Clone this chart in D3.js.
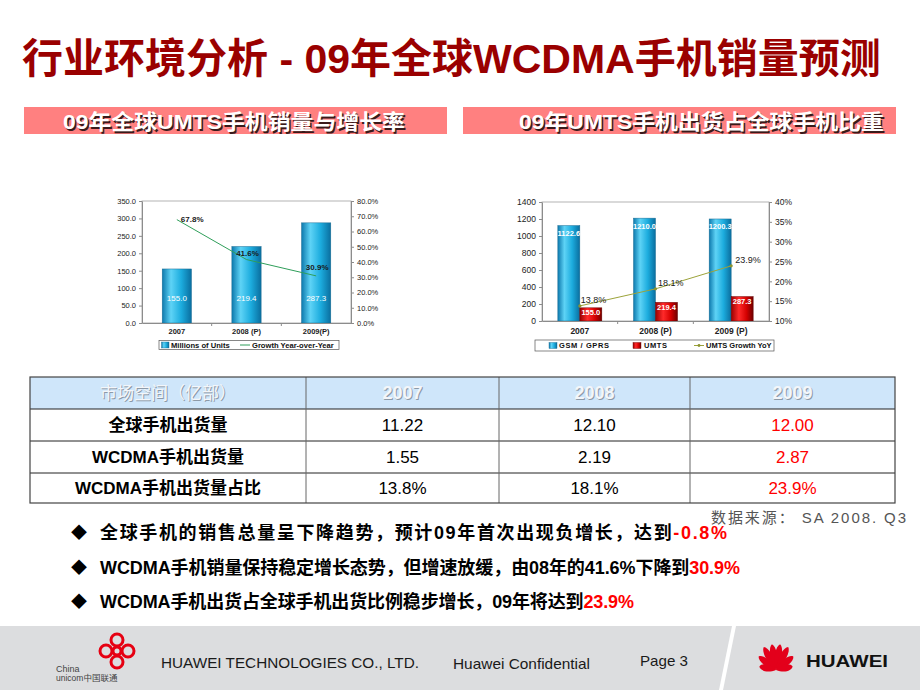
<!DOCTYPE html>
<html>
<head>
<meta charset="utf-8">
<script src="https://cdn.jsdelivr.net/npm/d3@7"></script>
<style>
  body { margin: 0; background: #fff; }
  svg { display: block; }
  text { font-family: "Liberation Sans", Arial, "Noto Sans CJK SC", sans-serif; }
</style>
</head>
<body>
<svg id="slide" width="920" height="690"></svg>
<script>
const slideTitle = '行业环境分析 - 09年全球WCDMA手机销量预测';
const panelTitles = ['09年全球UMTS手机销量与增长率', '09年UMTS手机出货占全球手机比重'];

// left chart: UMTS units + growth
const leftYears = ['2007', '2008 (P)', '2009(P)'];
const unitsSold = [155.0, 219.4, 287.3];
const unitsGrowth = [67.8, 41.6, 30.9];
const unitTicks = [0, 50, 100, 150, 200, 250, 300, 350];
const growthTicks = [0, 10, 20, 30, 40, 50, 60, 70, 80];
const leftLegend = ['Millions of Units', 'Growth Year-over-Year'];

// right chart: GSM vs UMTS + UMTS share
const rightYears = ['2007', '2008 (P)', '2009 (P)'];
const gsmUnits = [1122.6, 1210.0, 1200.3];
const umtsUnits = [155.0, 219.4, 287.3];
const umtsShare = [13.8, 18.1, 23.9];
const shipTicks = [0, 200, 400, 600, 800, 1000, 1200, 1400];
const shareTicks = [10, 15, 20, 25, 30, 35, 40];
const rightLegend = ['GSM / GPRS', 'UMTS', 'UMTS Growth YoY'];

const tableHead = ['市场空间（亿部）', '2007', '2008', '2009'];
const tableRows = ['全球手机出货量', 'WCDMA手机出货量', 'WCDMA手机出货量占比'];
const tableValues = [
  ['11.22', '12.10', '12.00'],
  ['1.55', '2.19', '2.87'],
  ['13.8%', '18.1%', '23.9%'],
];

const sourceNote = '数据来源： SA 2008. Q3';
const bullets = [
  ['全球手机的销售总量呈下降趋势，预计09年首次出现负增长，达到', '-0.8%'],
  ['WCDMA手机销量保持稳定增长态势，但增速放缓，由08年的41.6%下降到', '30.9%'],
  ['WCDMA手机出货占全球手机出货比例稳步增长，09年将达到', '23.9%'],
];

const footerTexts = ['HUAWEI TECHNOLOGIES CO., LTD.', 'Huawei Confidential', 'Page 3'];

const FONT = '"Liberation Sans", Arial, "Noto Sans CJK SC", sans-serif';

const createBarGradient = (defs, id, stops) => {
  const grad = defs.append('linearGradient')
    .attr('id', id)
    .attr('x1', '0%').attr('x2', '100%')
    .attr('y1', '0%').attr('y2', '0%');
  stops.forEach(([offset, color]) => {
    grad.append('stop').attr('offset', offset).attr('stop-color', color);
  });
};

const styleAxis = (axis, size) => {
  axis.attr('font-family', FONT).attr('font-size', size);
  axis.select('.domain').attr('stroke', '#8c8c8c');
  axis.selectAll('.tick line').attr('stroke', '#8c8c8c');
  axis.selectAll('.tick text').attr('fill', '#222');
};

const drawHeader = (svg) => {
  svg.append('text')
    .attr('x', 22)
    .attr('y', 73)
    .attr('font-size', 41)
    .attr('font-weight', 'bold')
    .attr('fill', '#9a0000')
    .text(slideTitle);

  const bars = [
    { x: 24, w: 423, tx: 63, tw: 342 },
    { x: 463, w: 433, tx: 519, tw: 365 },
  ];
  bars.forEach((b, i) => {
    svg.append('rect')
      .attr('x', b.x).attr('y', 107)
      .attr('width', b.w).attr('height', 27)
      .attr('fill', '#ff8080');
    [['#3a1a1a', 1.5], ['#ffffff', 0]].forEach(([color, off]) => {
      svg.append('text')
        .attr('x', b.tx + off)
        .attr('y', 129 + off)
        .attr('font-size', 21)
        .attr('font-weight', 'bold')
        .attr('fill', color)
        .attr('textLength', b.tw)
        .attr('lengthAdjust', 'spacingAndGlyphs')
        .text(panelTitles[i]);
    });
  });
};

const drawUnitsChart = (svg) => {
  const plot = { left: 142, right: 351, top: 201, bottom: 323 };
  const x = d3.scaleBand().domain(leftYears).range([plot.left, plot.right]);
  const y = d3.scaleLinear().domain([0, 350]).range([plot.bottom, plot.top]);
  const yPct = d3.scaleLinear().domain([0, 80]).range([plot.bottom, plot.top]);
  const cx = d => x(d) + x.bandwidth() / 2;
  const barWidth = x.bandwidth() * 0.42;
  const chart = svg.append('g');

  chart.append('rect')
    .attr('x', plot.left).attr('y', plot.top)
    .attr('width', plot.right - plot.left).attr('height', plot.bottom - plot.top)
    .attr('fill', 'none')
    .attr('stroke', '#a0a0a0')
    .attr('stroke-width', 0.8);

  chart.selectAll('.units-bar')
    .data(unitsSold)
    .enter()
    .append('rect')
    .attr('class', 'units-bar')
    .attr('x', (d, i) => cx(leftYears[i]) - barWidth / 2)
    .attr('y', d => y(d))
    .attr('width', barWidth)
    .attr('height', d => y(0) - y(d))
    .attr('fill', 'url(#blueBar)')
    .attr('stroke', '#1b6c93')
    .attr('stroke-width', 0.5);

  chart.selectAll('.units-label')
    .data(unitsSold)
    .enter()
    .append('text')
    .attr('class', 'units-label')
    .attr('x', (d, i) => cx(leftYears[i]))
    .attr('y', y(0) - 25)
    .attr('text-anchor', 'middle')
    .attr('dominant-baseline', 'central')
    .attr('font-size', 8)
    .attr('fill', '#fff')
    .text(d => d.toFixed(1));

  const line = d3.line()
    .x((d, i) => cx(leftYears[i]))
    .y(d => yPct(d));
  chart.append('path')
    .datum(unitsGrowth)
    .attr('d', line)
    .attr('fill', 'none')
    .attr('stroke', '#2f9e5a')
    .attr('stroke-width', 1);

  chart.selectAll('.growth-label')
    .data(unitsGrowth)
    .enter()
    .append('text')
    .attr('class', 'growth-label')
    .attr('x', (d, i) => cx(leftYears[i]) + (i === 0 ? 4 : 1))
    .attr('y', (d, i) => yPct(d) - (i === 0 ? 0 : 5 + i * 1.5))
    .attr('text-anchor', (d, i) => (i === 0 ? 'start' : 'middle'))
    .attr('dominant-baseline', 'central')
    .attr('font-size', 8)
    .attr('font-weight', 'bold')
    .attr('fill', '#1a1a1a')
    .text(d => `${d.toFixed(1)}%`);

  chart.append('g')
    .attr('transform', `translate(${plot.left},0)`)
    .call(d3.axisLeft(y).tickValues(unitTicks).tickFormat(d3.format('.1f')).tickSize(3).tickSizeOuter(0))
    .call(styleAxis, 7.5);
  chart.append('g')
    .attr('transform', `translate(${plot.right},0)`)
    .call(d3.axisRight(yPct).tickValues(growthTicks).tickFormat(d => `${d.toFixed(1)}%`).tickSize(3).tickSizeOuter(0))
    .call(styleAxis, 7.5);
  chart.append('g')
    .attr('transform', `translate(0,${plot.bottom})`)
    .call(d3.axisBottom(x).tickSize(0).tickPadding(6))
    .call(styleAxis, 7.5)
    .call(g => g.selectAll('.tick text').attr('font-weight', 'bold'));
  chart.selectAll('.cat-sep')
    .data(leftYears.slice(1))
    .enter()
    .append('line')
    .attr('class', 'cat-sep')
    .attr('x1', d => x(d)).attr('x2', d => x(d))
    .attr('y1', plot.bottom).attr('y2', plot.bottom + 3)
    .attr('stroke', '#8c8c8c');

  // legend
  const legend = chart.append('g');
  legend.append('rect')
    .attr('x', 159).attr('y', 340.5).attr('width', 180).attr('height', 9)
    .attr('fill', '#fff').attr('stroke', '#555').attr('stroke-width', 0.7);
  legend.append('rect')
    .attr('x', 161.5).attr('y', 342).attr('width', 7.5).attr('height', 6)
    .attr('fill', 'url(#blueBar)').attr('stroke', '#1b6c93').attr('stroke-width', 0.4);
  legend.append('line')
    .attr('x1', 240).attr('x2', 250).attr('y1', 345).attr('y2', 345)
    .attr('stroke', '#2f9e5a').attr('stroke-width', 1);
  legend.selectAll('.lg-text')
    .data(leftLegend)
    .enter()
    .append('text')
    .attr('x', (d, i) => (i === 0 ? 171 : 252))
    .attr('y', 345)
    .attr('dominant-baseline', 'central')
    .attr('font-size', 7.6)
    .attr('font-weight', 'bold')
    .attr('fill', '#111')
    .text(d => d);
};

const drawShareChart = (svg) => {
  const plot = { left: 542, right: 769, top: 202, bottom: 321 };
  const x = d3.scaleBand().domain(rightYears).range([plot.left, plot.right]);
  const series = d3.scaleBand().domain(['gsm', 'umts']).range([0, x.bandwidth()]).paddingOuter(0.72);
  const y = d3.scaleLinear().domain([0, 1400]).range([plot.bottom, plot.top]);
  const yPct = d3.scaleLinear().domain([10, 40]).range([plot.bottom, plot.top]);
  const cx = d => x(d) + x.bandwidth() / 2;
  const chart = svg.append('g');

  chart.append('rect')
    .attr('x', plot.left).attr('y', plot.top)
    .attr('width', plot.right - plot.left).attr('height', plot.bottom - plot.top)
    .attr('fill', 'none')
    .attr('stroke', '#a0a0a0')
    .attr('stroke-width', 0.8);

  const groups = [
    { key: 'gsm', values: gsmUnits, fill: 'url(#blueBar)', stroke: '#1b6c93' },
    { key: 'umts', values: umtsUnits, fill: 'url(#redBar)', stroke: '#6a0000' },
  ];
  groups.forEach(({ key, values, fill, stroke }) => {
    chart.selectAll(`.bar-${key}`)
      .data(values)
      .enter()
      .append('rect')
      .attr('class', `bar-${key}`)
      .attr('x', (d, i) => x(rightYears[i]) + series(key))
      .attr('y', d => y(d))
      .attr('width', series.bandwidth())
      .attr('height', d => y(0) - y(d))
      .attr('fill', fill)
      .attr('stroke', stroke)
      .attr('stroke-width', 0.5);
    chart.selectAll(`.label-${key}`)
      .data(values)
      .enter()
      .append('text')
      .attr('class', `label-${key}`)
      .attr('x', (d, i) => x(rightYears[i]) + series(key) + series.bandwidth() / 2)
      .attr('y', d => y(d) + (key === 'gsm' ? 8 : 5))
      .attr('text-anchor', 'middle')
      .attr('dominant-baseline', 'central')
      .attr('font-size', 7.5)
      .attr('font-weight', 'bold')
      .attr('fill', '#fff')
      .text(d => d.toFixed(1));
  });

  const line = d3.line()
    .x((d, i) => cx(rightYears[i]))
    .y(d => yPct(d));
  chart.append('path')
    .datum(umtsShare)
    .attr('d', line)
    .attr('fill', 'none')
    .attr('stroke', '#9ca33a')
    .attr('stroke-width', 1);
  chart.selectAll('.share-dot')
    .data(umtsShare)
    .enter()
    .append('circle')
    .attr('class', 'share-dot')
    .attr('cx', (d, i) => cx(rightYears[i]))
    .attr('cy', d => yPct(d))
    .attr('r', 1.6)
    .attr('fill', '#8c9430');
  chart.selectAll('.share-label')
    .data(umtsShare)
    .enter()
    .append('text')
    .attr('class', 'share-label')
    .attr('x', (d, i) => cx(rightYears[i]) + 1 + i * 1.5)
    .attr('y', d => yPct(d) - 5.5)
    .attr('dominant-baseline', 'central')
    .attr('font-size', 9)
    .attr('fill', '#1a1a1a')
    .text(d => `${d.toFixed(1)}%`);

  chart.append('g')
    .attr('transform', `translate(${plot.left},0)`)
    .call(d3.axisLeft(y).tickValues(shipTicks).tickFormat(d3.format('d')).tickSize(3).tickSizeOuter(0))
    .call(styleAxis, 8.5);
  chart.append('g')
    .attr('transform', `translate(${plot.right},0)`)
    .call(d3.axisRight(yPct).tickValues(shareTicks).tickFormat(d => `${d}%`).tickSize(3).tickSizeOuter(0))
    .call(styleAxis, 8.5);
  chart.append('g')
    .attr('transform', `translate(0,${plot.bottom})`)
    .call(d3.axisBottom(x).tickSize(0).tickPadding(7))
    .call(styleAxis, 8.5)
    .call(g => g.selectAll('.tick text').attr('font-weight', 'bold'));
  chart.selectAll('.cat-sep')
    .data(rightYears.slice(1))
    .enter()
    .append('line')
    .attr('class', 'cat-sep')
    .attr('x1', d => x(d)).attr('x2', d => x(d))
    .attr('y1', plot.bottom).attr('y2', plot.bottom + 3)
    .attr('stroke', '#8c8c8c');

  const legend = chart.append('g');
  legend.append('rect')
    .attr('x', 535).attr('y', 340).attr('width', 239).attr('height', 11)
    .attr('fill', '#fff').attr('stroke', '#555').attr('stroke-width', 0.7);
  legend.append('rect')
    .attr('x', 549).attr('y', 342.5).attr('width', 8).attr('height', 6)
    .attr('fill', 'url(#blueBar)').attr('stroke', '#1b6c93').attr('stroke-width', 0.4);
  legend.append('rect')
    .attr('x', 633).attr('y', 342.5).attr('width', 8).attr('height', 6)
    .attr('fill', 'url(#redBar)').attr('stroke', '#6a0000').attr('stroke-width', 0.4);
  legend.append('line')
    .attr('x1', 694).attr('x2', 704).attr('y1', 345.5).attr('y2', 345.5)
    .attr('stroke', '#9ca33a').attr('stroke-width', 1);
  legend.append('circle')
    .attr('cx', 699).attr('cy', 345.5).attr('r', 1.4).attr('fill', '#8c9430');
  const legendX = [559, 644, 706];
  legend.selectAll('.lg-text')
    .data(rightLegend)
    .enter()
    .append('text')
    .attr('x', (d, i) => legendX[i])
    .attr('y', 345.8)
    .attr('dominant-baseline', 'central')
    .attr('font-size', 7.5)
    .attr('font-weight', 'bold')
    .attr('letter-spacing', (d, i) => (i === 2 ? 0 : 0.6))
    .attr('fill', '#111')
    .text(d => d);
};

const drawTable = (svg) => {
  const cols = [30, 306, 499, 690, 895];
  const rows = [377, 409, 441, 473, 503];
  const table = svg.append('g');

  table.append('rect')
    .attr('x', cols[0]).attr('y', rows[0])
    .attr('width', cols[4] - cols[0]).attr('height', rows[1] - rows[0])
    .attr('fill', '#cfe6fa');

  rows.slice(1, 4).forEach(ry => {
    table.append('line')
      .attr('x1', cols[0]).attr('x2', cols[4]).attr('y1', ry).attr('y2', ry)
      .attr('stroke', '#222').attr('stroke-width', 1);
  });
  cols.slice(1, 4).forEach(cx => {
    table.append('line')
      .attr('x1', cx).attr('x2', cx).attr('y1', rows[0]).attr('y2', rows[4])
      .attr('stroke', '#666').attr('stroke-width', 1);
  });
  table.append('rect')
    .attr('x', cols[0]).attr('y', rows[0])
    .attr('width', cols[4] - cols[0]).attr('height', rows[4] - rows[0])
    .attr('fill', 'none').attr('stroke', '#444').attr('stroke-width', 1.2);

  const mid = i => (cols[i] + cols[i + 1]) / 2;
  const rowMid = i => (rows[i] + rows[i + 1]) / 2;

  tableHead.forEach((h, i) => {
    [['#8d9aa8', 1], ['#f3f6fa', 0]].forEach(([color, off]) => {
      table.append('text')
        .attr('x', mid(i) + off)
        .attr('y', rowMid(0) + off)
        .attr('text-anchor', 'middle')
        .attr('dominant-baseline', 'central')
        .attr('font-size', i === 0 ? 17 : 18)
        .attr('font-weight', i === 0 ? 'normal' : 'bold')
        .attr('fill', color)
        .text(h);
    });
  });

  tableRows.forEach((label, r) => {
    table.append('text')
      .attr('x', mid(0))
      .attr('y', rowMid(r + 1))
      .attr('text-anchor', 'middle')
      .attr('dominant-baseline', 'central')
      .attr('font-size', 17)
      .attr('font-weight', 'bold')
      .attr('fill', '#000')
      .text(label);
    tableValues[r].forEach((v, c) => {
      table.append('text')
        .attr('x', mid(c + 1))
        .attr('y', rowMid(r + 1))
        .attr('text-anchor', 'middle')
        .attr('dominant-baseline', 'central')
        .attr('font-size', 17)
        .attr('fill', c === 2 ? '#ff0000' : '#000')
        .text(v);
    });
  });
};

const drawBullets = (svg) => {
  svg.append('text')
    .attr('x', 711)
    .attr('y', 523)
    .attr('font-family', '"Liberation Serif", "DejaVu Serif", "Noto Sans CJK SC", serif')
    .attr('font-size', 15)
    .attr('fill', '#555')
    .attr('textLength', 195)
    .text(sourceNote);

  const lineY = [539, 574, 608];
  const lineW = [627, 640, 534];
  bullets.forEach(([body, value], i) => {
    svg.append('text')
      .attr('x', 71)
      .attr('y', lineY[i] - 1)
      .attr('font-family', '"DejaVu Sans", sans-serif')
      .attr('font-size', 16)
      .attr('fill', '#000')
      .text('◆');
    const t = svg.append('text')
      .attr('x', 100)
      .attr('y', lineY[i])
      .attr('font-family', '"Noto Sans CJK SC", "Liberation Sans", sans-serif')
      .attr('font-size', 18)
      .attr('font-weight', 'bold')
      .attr('textLength', lineW[i]);
    t.append('tspan').attr('fill', '#000').text(body);
    t.append('tspan').attr('fill', '#ff0000').text(value);
  });
};

const drawFooter = (svg) => {
  const footer = svg.append('g');
  footer.append('rect')
    .attr('x', 0).attr('y', 626).attr('width', 920).attr('height', 64)
    .attr('fill', '#dcdddf');
  footer.append('path')
    .attr('d', 'M732,626 L736,626 L723,690 L719,690 Z')
    .attr('fill', '#fff');

  // China Unicom knot
  const knot = footer.append('g').attr('transform', 'translate(117,651)');
  [[0, -11], [-11, 0], [11, 0], [0, 11], [0, 0]].forEach(([dx, dy], i) => {
    knot.append('circle')
      .attr('cx', dx).attr('cy', dy)
      .attr('r', i === 4 ? 4 : 6)
      .attr('fill', 'none')
      .attr('stroke', '#e60012')
      .attr('stroke-width', 3);
  });
  footer.append('text')
    .attr('x', 56).attr('y', 672)
    .attr('font-size', 9).attr('fill', '#444')
    .text('China');
  footer.append('text')
    .attr('x', 56).attr('y', 681)
    .attr('font-size', 8.5).attr('fill', '#444')
    .text('unicom中国联通');

  footer.append('text')
    .attr('x', 161).attr('y', 668)
    .attr('font-size', 15).attr('fill', '#1a1a1a')
    .attr('textLength', 258).attr('lengthAdjust', 'spacingAndGlyphs')
    .text(footerTexts[0]);
  footer.append('text')
    .attr('x', 453).attr('y', 669)
    .attr('font-size', 15).attr('fill', '#1a1a1a')
    .attr('textLength', 137).attr('lengthAdjust', 'spacingAndGlyphs')
    .text(footerTexts[1]);
  footer.append('text')
    .attr('x', 640).attr('y', 666)
    .attr('font-size', 15).attr('fill', '#1a1a1a')
    .attr('textLength', 48).attr('lengthAdjust', 'spacingAndGlyphs')
    .text(footerTexts[2]);

  // Huawei petals
  const logo = footer.append('g').attr('transform', 'translate(776,670)');
  [-78, -52, -28, -9, 9, 28, 52, 78].forEach(angle => {
    const len = Math.abs(angle) > 60 ? 17 : Math.abs(angle) > 40 ? 22 : 26;
    logo.append('path')
      .attr('d', `M0,0 C-5,-${len * 0.45} -4,-${len * 0.9} 0,-${len} C4,-${len * 0.9} 5,-${len * 0.45} 0,0 Z`)
      .attr('transform', `rotate(${angle})`)
      .attr('fill', '#e3001b');
  });
  footer.append('text')
    .attr('x', 806).attr('y', 667)
    .attr('font-size', 16.5).attr('font-weight', 'bold').attr('fill', '#111')
    .attr('textLength', 82).attr('lengthAdjust', 'spacingAndGlyphs')
    .text('HUAWEI');
};

const startApp = () => {
  const svg = d3.select('#slide');
  const defs = svg.append('defs');
  createBarGradient(defs, 'blueBar', [
    ['0%', '#0d79ad'], ['30%', '#5ed3f6'], ['65%', '#1cacde'], ['100%', '#0a6e9f'],
  ]);
  createBarGradient(defs, 'redBar', [
    ['0%', '#9a0000'], ['35%', '#ff2a2a'], ['70%', '#d40000'], ['100%', '#6e0000'],
  ]);

  drawHeader(svg);
  drawUnitsChart(svg);
  drawShareChart(svg);
  drawTable(svg);
  drawBullets(svg);
  drawFooter(svg);
};

window.onload = startApp;
</script>
</body>
</html>
